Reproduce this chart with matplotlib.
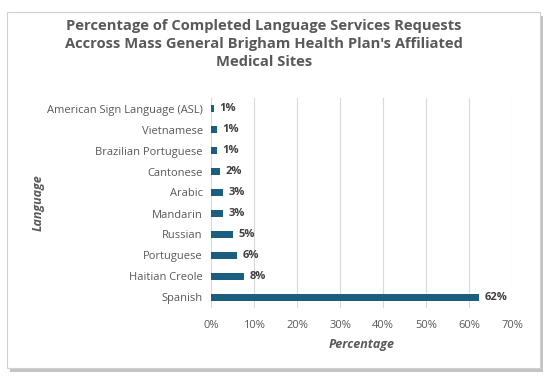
import matplotlib.pyplot as plt
from matplotlib.patches import Rectangle

idiomas = ['American Sign Language (ASL)', 'Vietnamese', 'Brazilian Portuguese',
           'Cantonese', 'Arabic', 'Mandarin', 'Russian', 'Portuguese',
           'Haitian Creole', 'Spanish']
percentuais = [0.7, 1.3, 1.3, 2.0, 2.7, 2.9, 5.1, 6.0, 7.7, 62.4]
xticks = [0, 10, 20, 30, 40, 50, 60, 70]

plt.rcParams['font.family'] = ['Open Sans', 'DejaVu Sans']
cinza = '#595959'
cor_barra = '#1B5E80'

fig = plt.figure(figsize=(5.47, 3.84), dpi=100)

# Moldura do gráfico com sombra
fig.patches.append(Rectangle((10 / 547, 1 - 372 / 384), 533 / 547, 356 / 384,
                             transform=fig.transFigure, facecolor='#c4c4c4',
                             edgecolor='none', zorder=0))
fig.patches.append(Rectangle((7 / 547, 1 - 368 / 384), 533 / 547, 356 / 384,
                             transform=fig.transFigure, facecolor='white',
                             edgecolor='#d0d0d0', linewidth=0.8, zorder=1))

ax = fig.add_axes([211 / 547, 1 - 308 / 384, 301 / 547, 210 / 384])
ax.set_zorder(2)

# Espanhol embaixo, ASL em cima
y_pos = [len(idiomas) - 1 - i for i in range(len(idiomas))]
ax.barh(y_pos, percentuais, height=0.38, color=cor_barra, zorder=3)

for yp, v in zip(y_pos, percentuais):
    ax.text(v + 1.3, yp, f'{v:.0f}%', va='center', ha='left', fontsize=8,
            fontweight='bold', color='#404040')

ax.set_yticks(y_pos)
ax.set_yticklabels(idiomas, fontsize=8, color=cinza)
ax.set_xticks(xticks)
ax.set_xticklabels([f'{t}%' for t in xticks], fontsize=8, color=cinza)
ax.set_xlim(0, 70)
ax.set_ylim(-0.5, len(idiomas) - 0.5)
ax.tick_params(axis='y', length=0, pad=6)
ax.tick_params(axis='x', length=0, pad=9)
ax.grid(axis='x', color='#d9d9d9', linewidth=0.8, zorder=0)
for s in ax.spines.values():
    s.set_visible(False)
ax.patch.set_alpha(0)

ax.set_xlabel('Percentage', fontsize=9, fontweight='bold', fontstyle='italic',
              color=cinza, labelpad=5)
ax.set_ylabel('Language', fontsize=9, fontweight='bold', fontstyle='italic',
              color=cinza)
ax.yaxis.set_label_coords((45 - 211) / 301, 0.5)

fig.text(264 / 547, 1 - 44 / 384,
         "Percentage of Completed Language Services Requests\n"
         "Accross Mass General Brigham Health Plan's Affiliated\n"
         "Medical Sites", ha='center', va='center', fontsize=10.6,
         fontweight='bold', color=cinza, linespacing=1.38, zorder=5)

fig.savefig('out.png', dpi=100)
